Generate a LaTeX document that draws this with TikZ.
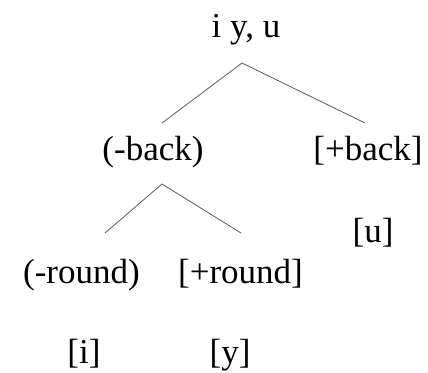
\documentclass[tikz,border=0pt]{standalone}
\usepackage{fontspec}
\setmainfont{Liberation Serif}
\usepackage{tikz}
\usetikzlibrary{positioning,calc}
\tikzset{
  jegy/.style={inner sep=0pt,anchor=base,font=\fontsize{35}{40}\selectfont},
  ag/.style={draw=black!65,line width=0.8pt},
}

\begin{document}
\begin{tikzpicture}[x=1pt,y=-1pt]
  \useasboundingbox (0,0) rectangle (428,372);
  \node[jegy] (root) at (246,37) {i y, u};
  \node[jegy] (mback) at (153,160) {(-back)};
  \node[jegy] (pback) at (368,160) {[+back]};
  \node[jegy] (mround) at (81.5,283) {(-round)};
  \node[jegy] (pround) at (240.5,283) {[+round]};
  \node[jegy] (u) at (373,242) {[u]};
  \node[jegy] (i) at (84,363) {[i]};
  \node[jegy] (y) at (230,363) {[y]};
  \coordinate (rootfork) at (242,63);
  \coordinate (mbacktop) at (162,123);
  \coordinate (pbacktop) at (365,123);
  \coordinate (mbackfork) at (162,184);
  \coordinate (mroundtop) at (105,233);
  \coordinate (proundtop) at (241,233);
  \draw[ag] (rootfork) -- (mbacktop);
  \draw[ag] (rootfork) -- (pbacktop);
  \draw[ag] (mbackfork) -- (mroundtop);
  \draw[ag] (mbackfork) -- (proundtop);
\end{tikzpicture}
\end{document}
